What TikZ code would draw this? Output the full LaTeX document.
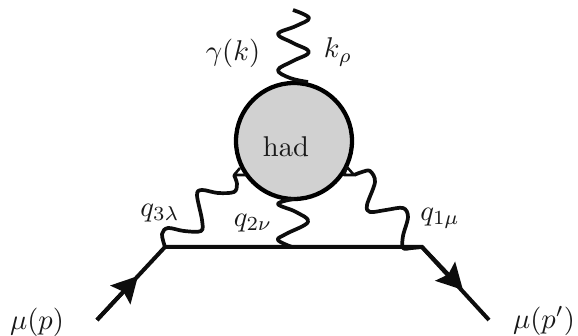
\documentclass[tikz,border=0pt]{standalone}
\usetikzlibrary{arrows.meta,calc,positioning}
\tikzset{
  fermion/.style={line width=1.4pt,black!95},
  fermion-in/.style={fermion,-{Stealth[length=9pt,width=9.5pt,inset=1.5pt]}},
  photon/.style={line width=1.3pt,black!95,line join=round},
  photon-end/.style={line width=0.9pt,black!95,line join=round},
  blob/.style={draw,circle,fill=black!18,line width=1.5pt,minimum size=40.6pt,inner sep=0pt},
  lab/.style={inner sep=0pt,text=black!90},
}

\begin{document}
\begin{tikzpicture}[x=0.35pt,y=-0.35pt]
  \useasboundingbox (0,0) rectangle (578,336);

  % BLOB
  \node[blob] (had) at (294,141) {};
  \node[lab] (hadtxt) at (286,147) {had};

  % FERMION LINE
  \coordinate (pin)  at (97,320);
  \coordinate (v3)   at (165,247);
  \coordinate (v2)   at (292,247);
  \coordinate (v1)   at (422,247);
  \coordinate (pout) at (489,320);
  \coordinate (tipin)  at (138,276);
  \coordinate (tipout) at (463,290);
  \draw[fermion] (pin) -- (v3) -- (v1) -- (pout);
  \draw[fermion-in] (pin) -- (tipin);
  \draw[fermion-in] (v1) -- (tipout);

  % PHOTONS
  \coordinate (ktop) at (293,10);
  \coordinate (b0)   at (308,82);
  \coordinate (c3)   at (234,175);
  \coordinate (b3a)  at (240,168);
  \coordinate (b3b)  at (246,175);
  \coordinate (b2)   at (294,199);
  \coordinate (c1)   at (354,175);
  \coordinate (b1a)  at (347,167);
  \coordinate (b1b)  at (344,175);
  \draw[photon] plot[smooth,tension=0.65] coordinates {(ktop) (309,18) (296,26) (278,34) (293,43) (309,52) (293,61) (278,70) (290,78) (b0)};
  \draw[photon] plot[smooth,tension=0.55] coordinates {(v3) (162,234) (168,228) (184,231) (201,231) (202,220) (197,195) (202,190) (218,193) (234,192) (237,184) (c3)};
  \draw[photon-end] (b3a) -- (c3) -- (b3b);
  \draw[photon] plot[smooth,tension=0.65] coordinates {(v2) (278,240) (286,234) (308,222) (296,212) (278,204) (b2)};
  \draw[photon] plot[smooth,tension=0.55] coordinates {(v1) (412,248) (403,248) (403,236) (408,217) (403,208) (386,210) (370,212) (367,205) (375,182) (370,171) (362,172) (c1)};
  \draw[photon-end] (b1b) -- (b1a) -- (c1) -- cycle;

  % LABELS
  \node[lab] (gamma) at (233,53)  {$\gamma(k)$};
  \node[lab] (krho)  at (338,52)  {$k_\rho$};
  \node[lab] (q3)    at (160,213) {$q_{3\lambda}$};
  \node[lab] (q2)    at (253,223) {$q_{2\nu}$};
  \node[lab] (q1)    at (440,218) {$q_{1\mu}$};
  \node[lab] (mup)   at (37,322)  {$\mu(p)$};
  \node[lab] (mupp)  at (544,321) {$\mu(p')$};

\end{tikzpicture}
\end{document}
